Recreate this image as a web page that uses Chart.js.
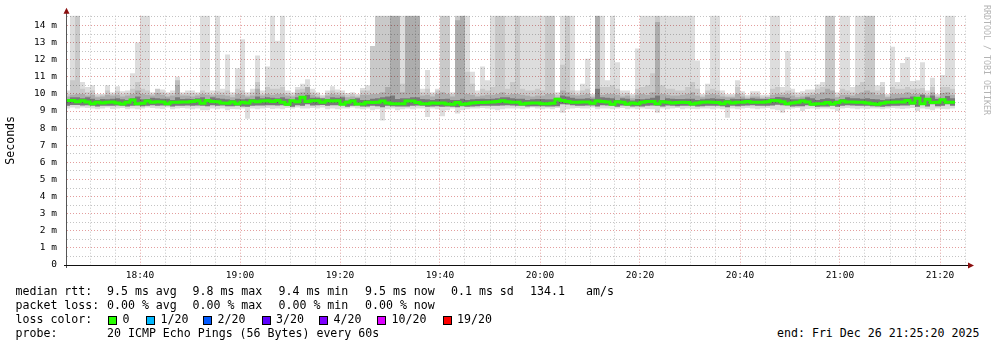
<!DOCTYPE html>
<html>
<head>
<meta charset="utf-8">
<script src="https://cdn.jsdelivr.net/npm/chart.js@4.4.1/dist/chart.umd.min.js"></script>
<style>
  body { margin: 0; background: #fff; }
  #wrap { position: relative; width: 997px; height: 347px; font-family: "DejaVu Sans Mono", monospace; font-size: 11.6px; color: #000; }
  #wrap canvas { position: absolute; left: 0; top: 0; }
  .t { position: absolute; white-space: pre; line-height: 14px; }
  .box { position: absolute; top: 316px; width: 7px; height: 7px; border: 1px solid #000; }
  #mark { position: absolute; left: 982px; top: 5px; writing-mode: vertical-rl; font-size: 8.3px; line-height: 10px; color: #b4b4b4; }
</style>
</head>
<body>
<div id="wrap">
  <canvas id="smoke" width="997" height="285"></canvas>
  <div id="mark">RRDTOOL / TOBI OETIKER</div>

  <div class="t" style="left:15.5px;top:284px">median rtt:</div>
  <div class="t" style="left:107px;top:284px">9.5 ms avg</div>
  <div class="t" style="left:192.5px;top:284px">9.8 ms max</div>
  <div class="t" style="left:278.5px;top:284px">9.4 ms min</div>
  <div class="t" style="left:365px;top:284px">9.5 ms now</div>
  <div class="t" style="left:451px;top:284px">0.1 ms sd</div>
  <div class="t" style="left:530px;top:284px">134.1</div>
  <div class="t" style="left:586px;top:284px">am/s</div>

  <div class="t" style="left:15.5px;top:298px">packet loss:</div>
  <div class="t" style="left:107px;top:298px">0.00 % avg</div>
  <div class="t" style="left:192.5px;top:298px">0.00 % max</div>
  <div class="t" style="left:278.5px;top:298px">0.00 % min</div>
  <div class="t" style="left:365px;top:298px">0.00 % now</div>

  <div class="t" style="left:15.5px;top:312px">loss color:</div>
  <div id="lossLegend"></div>

  <div class="t" style="left:15.5px;top:326px">probe:</div>
  <div class="t" style="left:107px;top:326px">20 ICMP Echo Pings (56 Bytes) every 60s</div>
  <div class="t" style="left:777px;top:326px">end: Fri Dec 26 21:25:20 2025</div>
</div>

<script>
// minutes after 18:00 where the first one-minute step begins
const startMinute = 25;

// median rtt per minute (ms)
const med = [
  9.47, 9.62, 9.62, 9.54, 9.6, 9.53, 9.43, 9.51, 9.47, 9.51, 9.53, 9.47, 9.41, 9.51, 9.64, 9.43, 9.45, 9.58,
  9.51, 9.54, 9.53, 9.43, 9.51, 9.51, 9.53, 9.53, 9.56, 9.6, 9.45, 9.62, 9.56, 9.54, 9.47, 9.45, 9.53, 9.43,
  9.51, 9.47, 9.58, 9.54, 9.58, 9.6, 9.56, 9.62, 9.51, 9.4, 9.6, 9.54, 9.8, 9.56, 9.6, 9.6, 9.51, 9.6,
  9.58, 9.6, 9.4, 9.51, 9.58, 9.41, 9.41, 9.51, 9.49, 9.51, 9.58, 9.47, 9.43, 9.43, 9.43, 9.58, 9.58, 9.49,
  9.43, 9.43, 9.47, 9.45, 9.47, 9.41, 9.4, 9.49, 9.4, 9.43, 9.47, 9.49, 9.49, 9.51, 9.53, 9.56, 9.6, 9.54,
  9.51, 9.51, 9.41, 9.45, 9.47, 9.47, 9.43, 9.43, 9.45, 9.68, 9.62, 9.56, 9.51, 9.51, 9.53, 9.53, 9.45, 9.58,
  9.56, 9.53, 9.4, 9.54, 9.51, 9.41, 9.47, 9.43, 9.51, 9.56, 9.56, 9.43, 9.54, 9.51, 9.47, 9.49, 9.51, 9.49,
  9.41, 9.47, 9.51, 9.53, 9.51, 9.49, 9.43, 9.53, 9.47, 9.51, 9.51, 9.56, 9.51, 9.51, 9.51, 9.54, 9.62, 9.6,
  9.54, 9.43, 9.47, 9.51, 9.58, 9.53, 9.4, 9.43, 9.43, 9.49, 9.41, 9.49, 9.58, 9.53, 9.53, 9.51, 9.51, 9.47,
  9.43, 9.4, 9.45, 9.51, 9.51, 9.53, 9.53, 9.62, 9.47, 9.74, 9.43, 9.68, 9.49, 9.51, 9.66, 9.51
];

// slowest ping per minute (top of lightest smoke)
const hi = [
  10.2, 14.6, 14.6, 10.7, 10.4, 10.5, 10.0, 10.0, 10.5, 10.1, 10.45, 10.15, 10.2, 11.2, 13.0, 14.6, 14.6, 10.1,
  10.3, 10.25, 10.1, 10.2, 11.0, 10.1, 10.2, 10.2, 10.1, 14.6, 14.6, 10.2, 14.6, 10.3, 12.3, 10.1, 11.5, 13.2,
  10.1, 10.3, 12.25, 10.2, 11.6, 14.6, 13.1, 14.6, 10.2, 10.1, 10.4, 10.6, 10.85, 10.3, 10.1, 9.95, 10.2, 10.45,
  10.25, 10.2, 10.05, 10.1, 10.0, 10.35, 10.5, 12.8, 14.6, 14.6, 14.6, 14.6, 14.6, 14.6, 14.6, 14.6, 14.6, 10.3,
  11.4, 10.1, 10.3, 14.6, 14.6, 10.1, 14.6, 14.6, 14.6, 11.3, 10.2, 11.6, 10.8, 14.6, 14.6, 14.6, 14.6, 14.6,
  14.6, 14.6, 14.6, 14.6, 14.6, 14.6, 14.6, 14.6, 10.1, 14.6, 14.6, 14.6, 10.2, 10.6, 12.05, 10.0, 14.6, 14.6,
  10.8, 14.6, 11.85, 10.2, 10.2, 10.0, 12.65, 14.6, 14.6, 14.6, 14.6, 14.6, 14.6, 14.6, 14.6, 14.6, 14.6, 14.6,
  11.95, 10.0, 10.6, 14.6, 14.6, 10.2, 10.0, 10.0, 10.8, 10.15, 9.95, 10.15, 10.15, 9.95, 9.95, 14.6, 14.6, 10.4,
  12.5, 10.3, 10.1, 10.15, 10.25, 10.25, 10.55, 10.7, 14.6, 14.6, 10.1, 14.6, 14.6, 10.4, 14.6, 14.6, 14.6, 14.6,
  10.5, 10.7, 10.0, 12.75, 10.7, 11.8, 12.15, 10.75, 10.8, 11.85, 10.2, 10.95, 10.0, 11.1, 14.6, 14.6
];

// upper edge of the second smoke shade
const up = [
  10.0, 10.8, 14.6, 10.3, 10.1, 10.2, 9.9, 9.95, 10.2, 10.0, 10.15, 10.0, 10.05, 10.3, 10.7, 10.3, 10.2, 10.0,
  10.3, 10.1, 10.0, 10.05, 10.5, 10.0, 10.05, 10.05, 10.0, 10.2, 10.1, 10.0, 10.15, 10.1, 10.2, 9.95, 10.3, 10.2,
  9.95, 10.1, 10.7, 10.0, 10.4, 10.3, 10.3, 10.4, 10.05, 9.95, 10.25, 10.3, 10.4, 10.1, 10.0, 9.85, 10.05, 10.2,
  10.1, 10.05, 9.95, 10.0, 9.9, 10.2, 10.2, 12.8, 14.6, 14.6, 14.6, 14.6, 14.6, 10.6, 14.6, 14.6, 14.6, 10.1,
  10.3, 10.0, 10.2, 14.6, 14.6, 10.0, 14.6, 14.6, 11.3, 10.6, 10.0, 10.3, 10.2, 10.4, 14.6, 14.6, 10.3, 10.7,
  14.6, 10.3, 10.2, 10.2, 10.3, 10.2, 14.6, 14.6, 9.95, 11.7, 14.6, 10.2, 10.0, 10.2, 10.3, 9.9, 14.6, 10.4,
  10.4, 10.5, 10.3, 10.0, 10.05, 9.9, 10.3, 10.4, 10.5, 11.2, 14.6, 10.5, 10.3, 10.3, 10.2, 10.2, 10.4, 10.7,
  10.3, 9.9, 10.2, 10.3, 10.2, 10.0, 9.9, 9.9, 10.4, 10.0, 9.85, 10.0, 10.0, 9.85, 9.85, 10.3, 10.4, 10.1,
  10.2, 10.1, 9.95, 10.0, 10.05, 10.1, 10.3, 10.4, 14.6, 14.6, 9.95, 10.3, 10.2, 10.1, 10.5, 10.7, 14.6, 14.6,
  10.2, 10.4, 9.9, 10.4, 10.3, 10.3, 10.4, 10.3, 10.3, 10.35, 10.0, 10.4, 9.9, 10.4, 10.4, 10.3
];

// upper edge of the third (darker) smoke shade
const up3 = [
  9.85, 9.95, 10.0, 10.0, 9.9, 9.95, 9.8, 9.85, 9.95, 9.9, 9.95, 9.85, 9.9, 10.0, 10.2, 10.0, 9.95, 9.9,
  10.05, 9.95, 9.85, 9.9, 10.8, 9.9, 9.9, 9.85, 9.9, 10.0, 9.95, 9.9, 9.95, 9.95, 9.9, 9.8, 10.0, 9.95,
  9.85, 9.9, 10.3, 9.9, 10.0, 9.95, 10.0, 10.0, 9.9, 9.85, 10.05, 10.1, 10.4, 9.95, 9.85, 9.75, 9.9, 10.0,
  9.95, 9.9, 9.8, 9.85, 9.8, 9.95, 9.95, 10.0, 10.0, 10.1, 10.4, 14.6, 14.6, 10.1, 14.6, 14.6, 14.6, 9.9,
  9.95, 9.85, 10.0, 10.1, 10.0, 9.85, 14.3, 14.6, 10.0, 9.95, 9.85, 9.9, 9.95, 9.95, 10.0, 10.1, 9.95, 10.0,
  10.0, 9.95, 9.9, 9.85, 9.9, 9.9, 10.0, 10.0, 9.8, 10.2, 10.1, 9.95, 9.9, 9.95, 10.0, 9.8, 14.6, 9.95,
  10.0, 10.0, 9.95, 9.85, 9.9, 9.75, 9.95, 10.0, 9.95, 10.1, 14.2, 10.0, 9.95, 9.9, 9.9, 9.95, 10.0, 10.1,
  9.9, 9.8, 9.95, 10.0, 9.95, 9.85, 9.8, 9.8, 10.0, 9.85, 9.75, 9.85, 9.85, 9.75, 9.8, 9.95, 10.0, 9.95,
  10.0, 9.9, 9.8, 9.85, 9.9, 9.95, 10.0, 10.1, 10.3, 10.2, 9.8, 9.95, 9.95, 9.9, 10.0, 10.1, 10.2, 10.1,
  9.95, 10.0, 9.8, 10.0, 10.0, 10.0, 10.1, 10.0, 10.0, 10.0, 9.9, 10.1, 9.8, 10.05, 10.1, 9.95
];

// upper edge of the dark band around the median
const dk = [
  9.7, 9.8, 9.8, 9.75, 9.8, 9.72, 9.65, 9.7, 9.68, 9.72, 9.75, 9.68, 9.65, 9.75, 9.85, 9.68, 9.7, 9.78,
  9.75, 9.72, 9.72, 9.65, 9.8, 9.7, 9.72, 9.7, 9.75, 9.8, 9.68, 9.8, 9.75, 9.72, 9.68, 9.65, 9.72, 9.68,
  9.72, 9.7, 9.85, 9.75, 9.8, 9.78, 9.75, 9.8, 9.72, 9.65, 9.8, 9.75, 9.95, 9.78, 9.78, 9.75, 9.7, 9.8,
  9.78, 9.8, 9.62, 9.7, 9.75, 9.65, 9.65, 9.72, 9.75, 9.8, 9.85, 9.9, 9.7, 9.75, 9.75, 9.8, 9.8, 9.7,
  9.68, 9.65, 9.7, 9.7, 9.72, 9.65, 9.65, 9.72, 9.65, 9.68, 9.7, 9.72, 9.7, 9.72, 9.75, 9.8, 9.8, 9.75,
  9.72, 9.72, 9.65, 9.68, 9.7, 9.7, 9.68, 9.68, 9.65, 9.9, 9.85, 9.78, 9.72, 9.72, 9.75, 9.72, 10.3, 9.8,
  9.78, 9.75, 9.65, 9.75, 9.72, 9.62, 9.7, 9.68, 9.72, 9.78, 9.9, 9.65, 9.75, 9.72, 9.7, 9.7, 9.72, 9.72,
  9.65, 9.68, 9.72, 9.75, 9.72, 9.7, 9.65, 9.72, 9.7, 9.72, 9.7, 9.75, 9.72, 9.7, 9.7, 9.75, 9.82, 9.8,
  9.78, 9.68, 9.68, 9.72, 9.8, 9.75, 9.65, 9.7, 9.75, 9.72, 9.62, 9.7, 9.8, 9.75, 9.75, 9.72, 9.75, 9.7,
  9.68, 9.65, 9.68, 9.72, 9.75, 9.78, 9.78, 9.85, 9.7, 9.95, 9.68, 9.9, 9.7, 9.72, 9.88, 9.75
];

// fastest ping per minute (bottom of lightest smoke)
const lo = [
  9.15, 9.2, 9.15, 9.2, 9.18, 9.15, 9.1, 9.15, 9.2, 9.12, 9.15, 9.18, 9.1, 9.15, 9.1, 9.15, 9.2, 9.18,
  9.15, 9.12, 9.2, 9.1, 9.15, 9.18, 9.15, 9.1, 9.15, 9.05, 9.05, 9.15, 9.1, 9.15, 9.05, 9.12, 9.1, 9.15,
  8.55, 9.15, 9.1, 9.15, 9.18, 9.12, 9.15, 9.1, 9.18, 9.15, 9.2, 9.15, 9.15, 9.18, 9.15, 9.2, 9.1, 9.15,
  9.1, 9.15, 9.15, 9.2, 9.15, 9.1, 9.15, 9.05, 9.1, 8.45, 9.1, 9.15, 9.05, 9.1, 9.15, 9.1, 9.15, 9.15,
  8.65, 9.15, 9.1, 8.7, 9.05, 9.15, 8.85, 9.05, 9.1, 9.15, 9.15, 9.18, 9.15, 9.1, 9.05, 9.1, 9.15, 9.15,
  9.15, 9.1, 9.15, 9.2, 9.15, 9.1, 9.15, 9.1, 9.18, 8.9, 9.1, 9.15, 9.18, 9.15, 9.15, 9.2, 9.1, 9.15,
  9.15, 9.1, 9.15, 9.18, 9.1, 9.15, 9.1, 9.15, 9.12, 9.1, 8.9, 9.15, 9.1, 9.15, 9.18, 9.1, 9.15, 9.12,
  9.1, 9.15, 9.15, 9.1, 9.15, 9.1, 8.6, 9.15, 9.1, 9.15, 9.18, 9.15, 9.1, 9.15, 9.18, 9.1, 9.05, 8.9,
  9.1, 9.15, 9.18, 9.0, 9.12, 9.15, 9.1, 9.15, 9.15, 9.1, 9.0, 9.15, 9.18, 9.15, 9.1, 9.15, 9.12, 9.15,
  9.15, 9.1, 9.15, 9.18, 9.15, 9.12, 9.15, 9.18, 9.0, 9.15, 9.1, 9.05, 9.15, 9.12, 9.1, 9.15
];

// lower edge of the darker smoke shades
const lo2 = [
  9.3, 9.35, 9.35, 9.32, 9.33, 9.3, 9.27, 9.3, 9.3, 9.3, 9.32, 9.3, 9.26, 9.3, 9.32, 9.28, 9.3, 9.33,
  9.3, 9.32, 9.32, 9.27, 9.3, 9.3, 9.32, 9.3, 9.32, 9.3, 9.28, 9.33, 9.3, 9.32, 9.28, 9.28, 9.3, 9.27,
  9.25, 9.3, 9.32, 9.32, 9.33, 9.33, 9.32, 9.33, 9.3, 9.25, 9.33, 9.3, 9.4, 9.32, 9.33, 9.35, 9.3, 9.33,
  9.33, 9.33, 9.25, 9.3, 9.32, 9.27, 9.26, 9.3, 9.28, 9.22, 9.3, 9.28, 9.26, 9.27, 9.26, 9.3, 9.32, 9.3,
  9.25, 9.27, 9.28, 9.25, 9.27, 9.25, 9.22, 9.28, 9.25, 9.27, 9.28, 9.3, 9.3, 9.3, 9.3, 9.32, 9.33, 9.32,
  9.3, 9.3, 9.26, 9.28, 9.28, 9.28, 9.26, 9.27, 9.28, 9.4, 9.38, 9.33, 9.3, 9.3, 9.32, 9.32, 9.27, 9.33,
  9.32, 9.3, 9.25, 9.32, 9.3, 9.26, 9.28, 9.27, 9.3, 9.32, 9.3, 9.27, 9.32, 9.3, 9.28, 9.3, 9.3, 9.3,
  9.26, 9.28, 9.3, 9.3, 9.3, 9.28, 9.22, 9.3, 9.28, 9.3, 9.32, 9.33, 9.3, 9.3, 9.3, 9.32, 9.37, 9.33,
  9.32, 9.27, 9.28, 9.28, 9.33, 9.3, 9.25, 9.27, 9.27, 9.3, 9.25, 9.3, 9.33, 9.32, 9.3, 9.3, 9.3, 9.28,
  9.27, 9.25, 9.28, 9.3, 9.3, 9.32, 9.32, 9.37, 9.25, 9.42, 9.27, 9.4, 9.28, 9.3, 9.4, 9.3
];

const lossLabels = ["0", "1/20", "2/20", "3/20", "4/20", "10/20", "19/20"];
const lossColors = ["#26ff00", "#00b8ff", "#0059ff", "#5e00ff", "#7e00ff", "#dd00ff", "#ff0000"];
const lossBoxX = [108, 146, 203, 261.5, 319, 377, 442.5];

const majorGrid = "rgba(222, 140, 140, 0.85)";
const minorGrid = "rgba(190, 190, 190, 0.9)";

// loss colour legend
const legendEl = document.getElementById("lossLegend");
lossLabels.forEach(function (lab, i) {
  const b = document.createElement("div");
  b.className = "box";
  b.style.left = lossBoxX[i] + "px";
  b.style.background = lossColors[i];
  legendEl.appendChild(b);
  const t = document.createElement("div");
  t.className = "t";
  t.style.left = (lossBoxX[i] + 14.5) + "px";
  t.style.top = "312px";
  t.textContent = lab;
  legendEl.appendChild(t);
});

function band(bottom, top) {
  return med.map(function (_, i) {
    return { x: startMinute + i + 0.5, y: [bottom[i], top[i]] };
  });
}

const medianLine = med.map(function (v, i) {
  return { x: startMinute + i, y: v };
});
medianLine.push({ x: startMinute + med.length, y: med[med.length - 1] });

function timeLabel(t) {
  const h = 18 + Math.floor(t / 60);
  const m = t % 60;
  return h + ":" + String(m).padStart(2, "0");
}

const axisDecor = {
  id: "axisDecor",
  afterDraw(chart) {
    const ctx = chart.ctx;
    const a = chart.chartArea;
    ctx.save();
    ctx.lineWidth = 1;
    ctx.strokeStyle = "#555";
    ctx.beginPath();
    ctx.moveTo(a.left - 0.5, a.bottom + 3);
    ctx.lineTo(a.left - 0.5, a.top - 3);
    ctx.stroke();
    ctx.strokeStyle = "#111";
    ctx.beginPath();
    ctx.moveTo(a.left - 3, a.bottom + 0.5);
    ctx.lineTo(a.right + 1, a.bottom + 0.5);
    ctx.stroke();
    ctx.fillStyle = "#8b0f0f";
    ctx.beginPath();
    ctx.moveTo(a.left - 0.5, a.top - 8);
    ctx.lineTo(a.left - 3.5, a.top - 2);
    ctx.lineTo(a.left + 2.5, a.top - 2);
    ctx.closePath();
    ctx.fill();
    ctx.beginPath();
    ctx.moveTo(a.right + 7, a.bottom + 0.5);
    ctx.lineTo(a.right + 1, a.bottom - 2.5);
    ctx.lineTo(a.right + 1, a.bottom + 3.5);
    ctx.closePath();
    ctx.fill();
    ctx.restore();
  },
};

const barCommon = {
  type: "bar",
  grouped: false,
  barPercentage: 1,
  categoryPercentage: 1,
  borderWidth: 0,
  inflateAmount: 0,
};

// smoke shades are translucent so the grid shows through, as in rrdtool
const config = {
  data: {
    datasets: [
      Object.assign({}, barCommon, { data: band(lo, hi), backgroundColor: "rgba(0,0,0,0.135)", order: 6 }),
      Object.assign({}, barCommon, { data: band(lo2, up), backgroundColor: "rgba(0,0,0,0.095)", order: 5 }),
      Object.assign({}, barCommon, { data: band(lo2, up3), backgroundColor: "rgba(0,0,0,0.14)", order: 4 }),
      Object.assign({}, barCommon, { data: band(lo2, dk), backgroundColor: "rgba(0,0,0,0.3)", order: 3 }),
      {
        type: "line",
        data: medianLine,
        borderColor: "#26ff00",
        borderWidth: 3,
        pointRadius: 0,
        stepped: "after",
        order: 1,
      },
    ],
  },
  options: {
    responsive: false,
    animation: false,
    layout: { padding: { top: 15, right: 30, left: 0, bottom: 0 } },
    plugins: {
      legend: { display: false },
      tooltip: { enabled: false },
    },
    scales: {
      x: {
        type: "linear",
        offset: false,
        min: 25.4,
        max: 205.4,
        afterBuildTicks(scale) {
          const ticks = [];
          for (let t = 30; t <= 205; t += 5) ticks.push({ value: t });
          scale.ticks = ticks;
        },
        afterFit(scale) {
          scale.height = 20;
        },
        ticks: {
          maxRotation: 0,
          autoSkip: false,
          padding: 5,
          color: "#000",
          font: { family: "DejaVu Sans Mono", size: 9.5 },
          callback: function (v) {
            return v % 20 === 0 ? timeLabel(v) : "";
          },
        },
        grid: {
          drawTicks: false,
          offset: false,
          color: function (c) {
            return c.tick && c.tick.value % 20 === 0 ? majorGrid : minorGrid;
          },
        },
        border: { display: false, dash: [1, 2] },
      },
      y: {
        min: 0,
        max: 14.57,
        afterBuildTicks(scale) {
          const ticks = [];
          for (let v = 0; v <= 14.5; v += 0.5) ticks.push({ value: v });
          scale.ticks = ticks;
        },
        afterFit(scale) {
          scale.width = 67;
        },
        title: {
          display: true,
          text: "Seconds",
          color: "#000",
          font: { family: "DejaVu Sans Mono", size: 11.6 },
        },
        ticks: {
          autoSkip: false,
          padding: 10,
          color: "#000",
          font: { family: "DejaVu Sans Mono", size: 9.5 },
          callback: function (v) {
            if (v === 0) return "0";
            return v % 1 === 0 ? v + " m" : "";
          },
        },
        grid: {
          drawTicks: false,
          color: function (c) {
            if (!c.tick || c.tick.value === 0) return "rgba(0,0,0,0)";
            return c.tick.value % 1 === 0 ? majorGrid : minorGrid;
          },
        },
        border: { display: false, dash: [1, 2] },
      },
    },
  },
  plugins: [axisDecor],
};

const smokeChart = new Chart(document.getElementById("smoke").getContext("2d"), config);
</script>
</body>
</html>
